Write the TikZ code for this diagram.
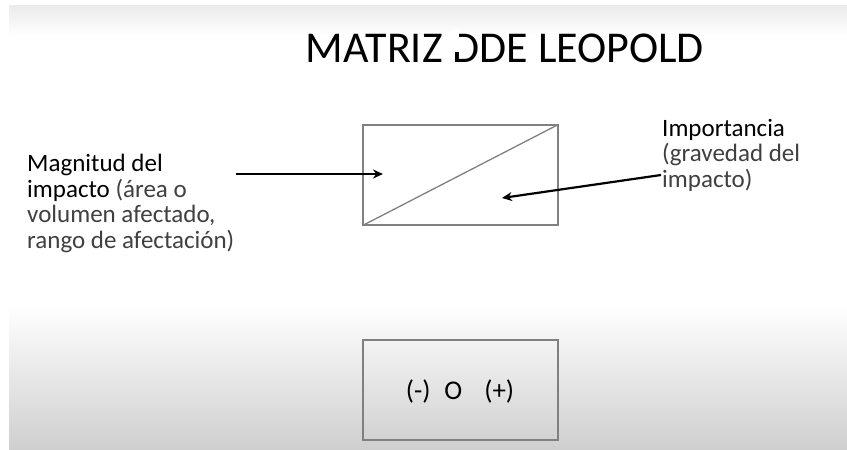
\documentclass[tikz,border=0pt]{standalone}
\usepackage{fontspec}
\setmainfont{Carlito}
\usetikzlibrary{arrows.meta}
\definecolor{txtgray}{HTML}{404040}
\definecolor{boxgray}{HTML}{808080}
\tikzset{
  cell/.style={draw=boxgray, line width=1.3pt, minimum width=195pt, minimum height=100pt, inner sep=0pt},
  pointer/.style={draw=black, line width=2.2pt, -{Stealth[length=10pt,width=9pt]}},
  label/.style={anchor=base west, align=left, inner sep=0pt, font=\fontsize{25}{25.5}\selectfont}
}
\begin{document}
\begin{tikzpicture}[x=1pt,y=-1pt]
\useasboundingbox (0,0) rectangle (847,450);
\fill[white] (0,0) rectangle (847,450);
\shade[top color=black!8, bottom color=white] (9,5) rectangle (847,35);
\shade[top color=white, bottom color=black!19] (9,305) rectangle (847,450);
% title
\node[inner sep=0pt, anchor=base, font=\fontsize{44}{50}\selectfont] (title) at (505,62) {MATRIZ DDE LEOPOLD};
\fill[white] (451,30) rectangle (459,52);
% matrix cell
\node[cell] (cell) at (460.5,175) {};
\draw[boxgray, line width=1.3pt] (cell.south west) -- (cell.north east);
% labels (anchored at the baseline of the last line)
\node[label] (mag) at (27,248) {Magnitud del\\impacto {\color{txtgray}(área o}\\{\color{txtgray}volumen afectado,}\\{\color{txtgray}rango de afectación)}};
\node[label] (imp) at (662,187) {Importancia\\{\color{txtgray}(gravedad del}\\{\color{txtgray}impacto)}};
% arrows
\coordinate (m0) at (236,174);
\coordinate (m1) at (383,174);
\coordinate (i0) at (661,175);
\coordinate (i1) at (502,198);
\draw[pointer] (m0) -- (m1);
\draw[pointer] (i0) -- (i1);
% sign box
\node[cell] (sign) at (460.5,390) {};
\node[inner sep=0pt, font=\fontsize{27}{30}\selectfont] (signs) at (460,391) {(-)\hspace{14pt}O\hspace{22pt}(+)};
\end{tikzpicture}
\end{document}
